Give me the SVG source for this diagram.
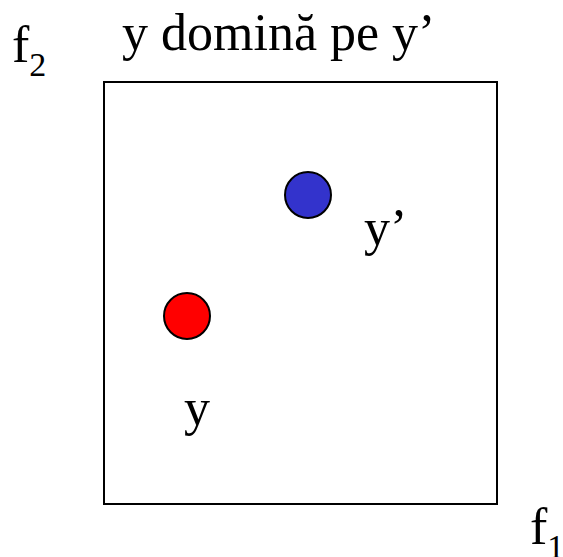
<svg xmlns="http://www.w3.org/2000/svg" width="563" height="557" viewBox="0 0 563 557">
<rect width="563" height="557" fill="#fff"/>
<g id="frame"><rect x="104" y="82" width="393" height="422" fill="none" stroke="#000" stroke-width="2"/></g>
<g id="title"><text x="122" y="50" font-size="52" font-family="Times New Roman, serif">y domină pe y’</text></g>
<g id="axis-f2"><text x="12" y="62" font-size="52" font-family="Times New Roman, serif">f<tspan font-size="34" dy="14">2</tspan></text></g>
<g id="axis-f1"><text x="530" y="544" font-size="52" font-family="Times New Roman, serif">f<tspan font-size="34" dy="14">1</tspan></text></g>
<g id="point-y-prime"><circle cx="308" cy="195" r="23" fill="#3333cc" stroke="#000" stroke-width="2"/><text x="364" y="245" font-size="52" font-family="Times New Roman, serif">y’</text></g>
<g id="point-y"><circle cx="187" cy="316" r="23" fill="#ff0000" stroke="#000" stroke-width="2"/><text x="184" y="425" font-size="52" font-family="Times New Roman, serif">y</text></g>
<g id="connectors"/>
</svg>
